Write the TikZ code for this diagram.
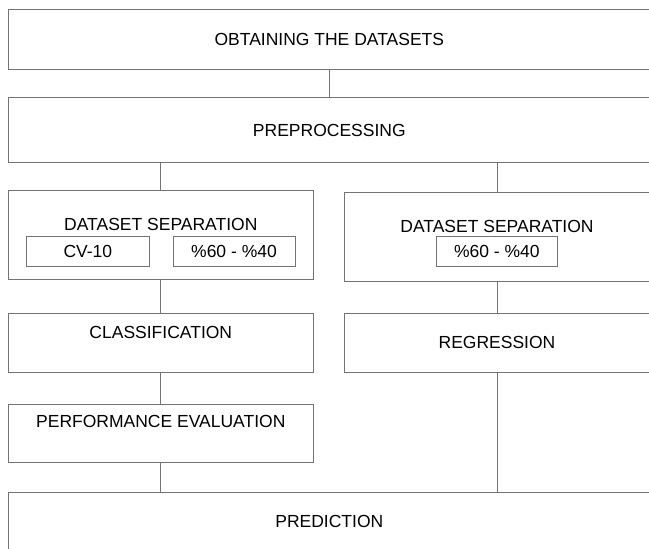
\documentclass[tikz,border=0pt]{standalone}
\usepackage{fontspec}
\setmainfont{Liberation Sans}
\definecolor{edge}{RGB}{115,115,115}
\begin{document}
\begin{tikzpicture}[x=1pt,y=-1pt,
  box/.style={draw=edge,line width=0.9pt,rectangle,inner sep=0pt,outer sep=0pt,
    font=\fontsize{17.5}{20}\selectfont},
  txt/.style={inner sep=0pt,anchor=base,font=\fontsize{17.5}{20}\selectfont},
  conn/.style={draw=edge,line width=0.9pt}]
\useasboundingbox (0,0) rectangle (649,549);
\clip (0,0) rectangle (649,549);
% wide boxes
\node[box,minimum width=642pt,minimum height=60.4pt] (obt) at (329.3,39.5) {OBTAINING THE DATASETS};
\node[box,minimum width=642pt,minimum height=65pt] (pre) at (329.3,130.2) {PREPROCESSING};
% dataset separation
\node[box,minimum width=305pt,minimum height=88.3pt] (dsl) at (160.8,234.85) {};
\node[txt] (dslt) at (160.8,230.7) {DATASET SEPARATION};
\node[box,minimum width=122.3pt,minimum height=30.2pt] (cv) at (87.85,251.6) {};
\node[txt] (cvt) at (87.85,257.7) {CV-10};
\node[box,minimum width=122pt,minimum height=30.2pt] (spl) at (234,251.6) {};
\node[txt] (splt) at (234,257.7) {\%60 - \%40};
\node[box,minimum width=306pt,minimum height=88.3pt] (dsr) at (497,236.85) {};
\node[txt] (dsrt) at (497,232.3) {DATASET SEPARATION};
\node[box,minimum width=121.7pt,minimum height=30.5pt] (spr) at (496.85,251.4) {};
\node[txt] (sprt) at (496.85,257.7) {\%60 - \%40};
% classification / regression
\node[box,minimum width=305pt,minimum height=58.7pt] (cls) at (160.8,342.65) {};
\node[txt] (clst) at (160.8,338.3) {CLASSIFICATION};
\node[box,minimum width=306pt,minimum height=58.7pt] (reg) at (497,342.65) {REGRESSION};
% performance
\node[box,minimum width=305pt,minimum height=58.3pt] (perf) at (160.8,433.15) {};
\node[txt] (perft) at (160.8,427.7) {PERFORMANCE EVALUATION};
% prediction
\node[box,minimum width=642pt,minimum height=57.3pt] (pred) at (329.3,521.35) {PREDICTION};
% connectors
\draw[conn] (obt.south) -- (pre.north);
\draw[conn] (pre.south -| dsl.north) -- (dsl.north);
\draw[conn] (pre.south -| dsr.north) -- (dsr.north);
\draw[conn] (dsl.south) -- (cls.north);
\draw[conn] (cls.south) -- (perf.north);
\draw[conn] (perf.south) -- (pred.north -| perf.south);
\draw[conn] (dsr.south) -- (reg.north);
\draw[conn] (reg.south) -- (pred.north -| reg.south);
\end{tikzpicture}
\end{document}
